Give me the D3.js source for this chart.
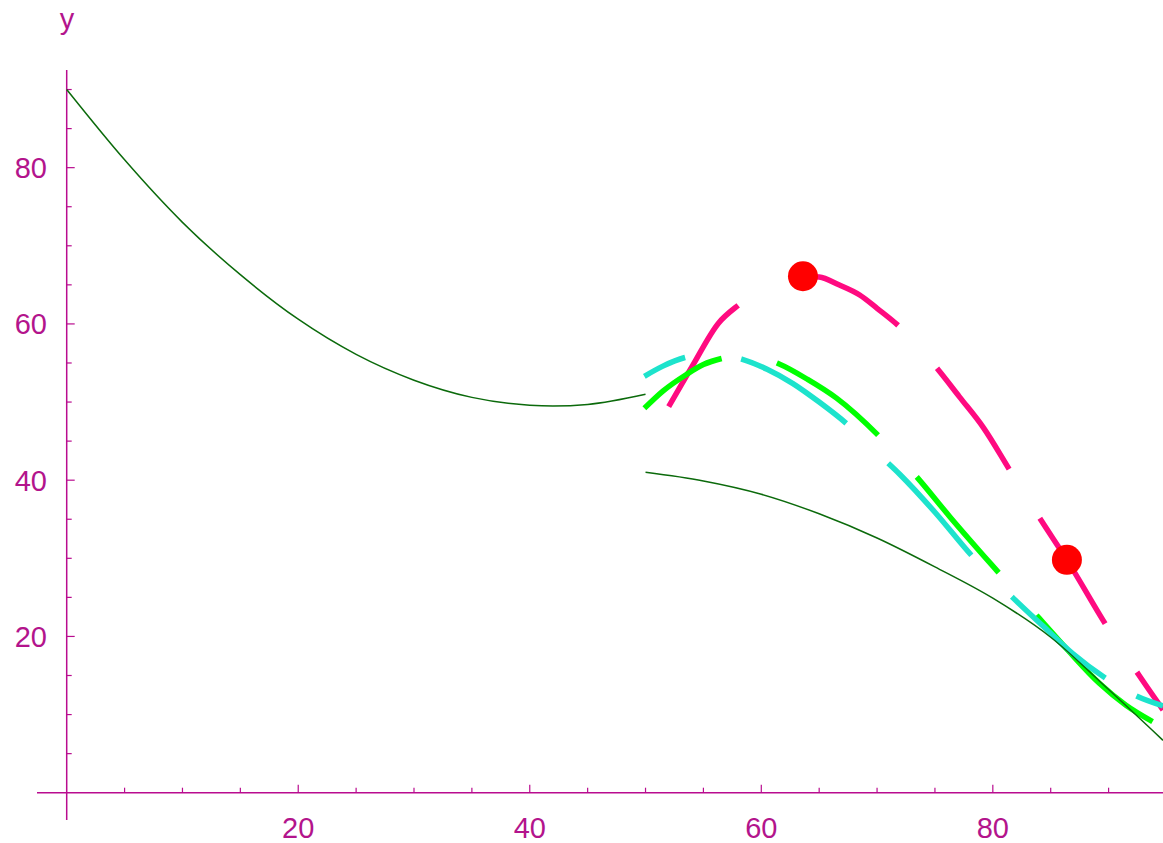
<html>
<head>
<meta charset="utf-8">
<style>
  body { margin: 0; background: #fff; }
  text { font-family: "Liberation Sans", Arial, sans-serif; }
</style>
</head>
<body>
<svg width="1163" height="843" class="chart"></svg>
<script src="https://cdn.jsdelivr.net/npm/d3@7"></script>
<script>
    // thin dark green curves
    thinX1 = [0, 5, 10, 15, 20, 25, 30, 35, 40, 42, 45, 50]
    thinY1 = [90.0, 81.0, 73.0, 66.3, 60.6, 56.1, 52.8, 50.6, 49.6, 49.5, 49.7, 51.0]
    thinX2 = [50, 55, 60, 65, 70, 75, 80, 85, 90, 94.7]
    thinY2 = [41.0, 39.9, 38.2, 35.7, 32.6, 28.9, 24.9, 19.9, 13.2, 6.7]

    // thick dashed curves
    pinkX = [52.0, 54.0, 56.3, 58.1, 60.0, 62.0, 63.6, 65.0, 66.7, 68.5, 70.0, 71.9, 75.3, 77.1, 79.2, 81.5, 84.2, 86.4, 89.8, 92.6, 94.7]
    pinkY = [49.4, 54.5, 60.1, 62.5, 64.5, 65.7, 66.1, 66.0, 65.0, 63.7, 62.0, 59.7, 54.1, 50.7, 46.7, 41.2, 34.8, 29.8, 21.4, 15.1, 10.6]
    cyanX = [49.9, 51.5, 53.4, 55.9, 58.3, 60.5, 62.7, 65, 67.4, 70, 72.0, 75, 78.2, 81.7, 84.5, 86.9, 89.9, 92.5, 94.7]
    cyanY = [53.3, 54.6, 55.7, 56.2, 55.5, 54.2, 52.4, 50.0, 47.2, 43.5, 40.7, 35.9, 30.3, 25.0, 21.1, 17.8, 14.5, 12.3, 11.1]
    greenX = [49.9, 51.5, 53.5, 55, 56.65, 58.7, 61.5, 64, 66.5, 70.2, 73.5, 76.3, 80.6, 83.9, 86.5, 89.2, 91.5, 93.8]
    greenY = [49.2, 51.4, 53.5, 54.8, 55.6, 56.1, 54.9, 52.9, 50.5, 45.6, 40.3, 35.3, 28.0, 22.5, 18.2, 14.0, 11.2, 9.1]

    // red points on the pink curve
    dotX = [63.6, 86.4]
    dotY = [66.1, 29.8]

    xTicks = [20, 40, 60, 80]
    yTicks = [20, 40, 60, 80]

    axisColor = "#b90c8f"
    textColor = "#b3148c"

    var svg = d3.select(".chart")
    var x = d3.scaleLinear().domain([0, 94.7]).range([66.7, 1163])
    var y = d3.scaleLinear().domain([0, 92.5]).range([792.7, 70])

    // axes
    var ax = svg.append("g")
    ax.append("line").attr("x1", 37).attr("x2", 1163).attr("y1", y(0)).attr("y2", y(0))
        .attr("stroke", axisColor).attr("stroke-width", 1.5)
    ax.append("line").attr("x1", x(0)).attr("x2", x(0)).attr("y1", 70).attr("y2", 820)
        .attr("stroke", axisColor).attr("stroke-width", 1.5)

    var minor = d3.range(5, 95, 5)
    ax.selectAll(".xt").data(minor).enter().append("line")
        .attr("x1", function(d){ return x(d) }).attr("x2", function(d){ return x(d) })
        .attr("y1", y(0)).attr("y2", function(d){ return y(0) - (d % 20 == 0 ? 8 : 5) })
        .attr("stroke", axisColor).attr("stroke-width", 1.2)
    ax.selectAll(".yt").data(minor).enter().append("line")
        .attr("y1", function(d){ return y(d) }).attr("y2", function(d){ return y(d) })
        .attr("x1", x(0)).attr("x2", function(d){ return x(0) + (d % 20 == 0 ? 8 : 5) })
        .attr("stroke", axisColor).attr("stroke-width", 1.2)

    ax.selectAll(".xl").data(xTicks).enter().append("text")
        .attr("x", function(d){ return x(d) }).attr("y", 838)
        .attr("text-anchor", "middle").attr("font-size", 29).attr("fill", textColor)
        .text(function(d){ return d })
    ax.selectAll(".yl").data(yTicks).enter().append("text")
        .attr("x", 47).attr("y", function(d){ return y(d) + 10.5 })
        .attr("text-anchor", "end").attr("font-size", 29).attr("fill", textColor)
        .text(function(d){ return d })
    ax.append("text").attr("x", 67).attr("y", 29).attr("text-anchor", "middle")
        .attr("font-size", 29).attr("fill", textColor).text("y")

    function pts(xs, ys){ return xs.map(function(d, i){ return [d, ys[i]] }) }
    var line = d3.line().x(function(d){ return x(d[0]) }).y(function(d){ return y(d[1]) })
        .curve(d3.curveMonotoneX)

    var plot = svg.append("g")
    function dashed(xs, ys, color, dash){
        plot.append("path").attr("d", line(pts(xs, ys))).attr("fill", "none")
            .attr("stroke", color).attr("stroke-width", 5.5)
            .attr("stroke-dasharray", dash)
    }
    dashed(pinkX, pinkY, "#ff0a80", "124 58")
    dashed(greenX, greenY, "#00ff00", "93 57 125 57 126 57 400 100")
    dashed(cyanX, cyanY, "#1de3cc", "45 57 124 58 124 58 124 36 200 100")

    plot.append("path").attr("d", line(pts(thinX1, thinY1))).attr("fill", "none")
        .attr("stroke", "#0b6a0b").attr("stroke-width", 1.5)
    plot.append("path").attr("d", line(pts(thinX2, thinY2))).attr("fill", "none")
        .attr("stroke", "#0b6a0b").attr("stroke-width", 1.5)

    plot.selectAll("circle").data(pts(dotX, dotY)).enter().append("circle")
        .attr("cx", function(d){ return x(d[0]) }).attr("cy", function(d){ return y(d[1]) })
        .attr("r", 15).attr("fill", "#ff0000")
</script>
</body>
</html>
